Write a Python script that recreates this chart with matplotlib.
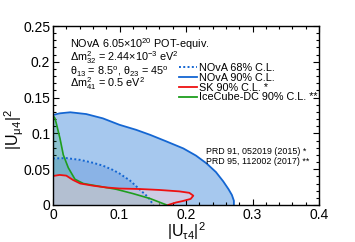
import numpy as np
import matplotlib
matplotlib.use("Agg")
import matplotlib.pyplot as plt
from matplotlib.lines import Line2D

plt.rcParams['font.family'] = ['Liberation Sans', 'DejaVu Sans']
plt.rcParams['mathtext.default'] = 'regular'
plt.rcParams['mathtext.fontset'] = 'custom'
plt.rcParams['mathtext.rm'] = 'Liberation Sans'
plt.rcParams['mathtext.it'] = 'Liberation Sans:italic'

# NOvA 90% C.L. contour
nova90_x = [0.0, 0.01, 0.026, 0.05, 0.075, 0.10, 0.125, 0.146, 0.17, 0.196, 0.215, 0.231, 0.245, 0.256, 0.264, 0.269, 0.272, 0.272]
nova90_y = [0.1257, 0.128, 0.1295, 0.127, 0.121, 0.112, 0.105, 0.098, 0.089, 0.079, 0.069, 0.058, 0.046, 0.033, 0.022, 0.014, 0.006, 0.0]
# NOvA 68% C.L. contour
nova68_x = [0.0, 0.02, 0.041, 0.06, 0.075, 0.09, 0.10, 0.116, 0.13, 0.143, 0.151]
nova68_y = [0.065, 0.0655, 0.063, 0.059, 0.055, 0.049, 0.044, 0.034, 0.022, 0.011, 0.0]
# SK 90% C.L. contour
sk_x = [0.0, 0.01, 0.02, 0.03, 0.041, 0.06, 0.08, 0.10, 0.131, 0.16, 0.19, 0.205, 0.211, 0.207, 0.195, 0.185, 0.178, 0.173]
sk_y = [0.0405, 0.042, 0.041, 0.035, 0.030, 0.027, 0.0245, 0.023, 0.0223, 0.021, 0.019, 0.017, 0.013, 0.0085, 0.0055, 0.0035, 0.0015, 0.0]
# IceCube-DC 90% C.L. contour
ic_x = [0.0, 0.003, 0.0055, 0.0105, 0.0155, 0.023, 0.033, 0.0456, 0.07, 0.095, 0.12, 0.146, 0.171]
ic_y = [0.125, 0.121, 0.112, 0.093, 0.070, 0.052, 0.036, 0.030, 0.026, 0.022, 0.016, 0.009, 0.0]

fig = plt.figure(figsize=(3.55, 2.42), dpi=100)
ax = fig.add_axes([53/355, 37/242, 266/355, 179/242])

blue = '#1466d2'
red = '#ee1111'
green = '#1e9e1e'

ax.fill_between(nova90_x, 0, nova90_y, color='#a6c8ee', lw=0, zorder=1)
ax.fill_between(nova68_x, 0, nova68_y, color='#8ab3e6', lw=0, zorder=2)
ax.fill_between(ic_x, 0, ic_y, color=(0.16, 0.67, 0.35), alpha=0.2, lw=0, zorder=3)
ax.fill(np.append(sk_x, 0.0), np.append(sk_y, 0.0), color=(1.0, 0.82, 0.86), alpha=0.45, lw=0, zorder=4)

ax.plot(nova90_x, nova90_y, color=blue, lw=1.3, zorder=5)
ax.plot(nova68_x, nova68_y, color=blue, lw=1.4, ls=(0, (1, 1.2)), zorder=5)
ax.plot(ic_x, ic_y, color=green, lw=1.2, zorder=6)
ax.plot(sk_x, sk_y, color=red, lw=1.3, zorder=7)

ax.set_xlim(0, 0.4)
ax.set_ylim(0, 0.25)
ax.set_xticks([0, 0.1, 0.2, 0.3, 0.4])
ax.set_xticklabels(['0', '0.1', '0.2', '0.3', '0.4'])
ax.set_yticks([0, 0.05, 0.1, 0.15, 0.2, 0.25])
ax.set_yticklabels(['0', '0.05', '0.1', '0.15', '0.2', '0.25'])
ax.set_xticks(np.arange(0, 0.4001, 0.02), minor=True)
ax.set_yticks(np.arange(0, 0.2501, 0.01), minor=True)
ax.tick_params(which='both', direction='in', top=True, right=True, labelsize=10, pad=2)
ax.tick_params(which='major', length=4.3, width=0.8)
ax.tick_params(which='minor', length=2.2, width=0.8)
for s in ax.spines.values():
    s.set_linewidth(1.0)
    s.set_zorder(10)

ax.set_xlabel(r'|U$_{\tau4}$|$^{2}$', fontsize=11.5, va='top')
ax.xaxis.set_label_coords(0.5, -0.085)
ax.set_ylabel(r'|U$_{\mu4}$|$^{2}$', fontsize=11.5)
ax.yaxis.set_label_coords(-0.1, 0.42)

def afx(px):
    return (px - 53) / 266
def afy(py):
    return (205 - py) / 179

info = [r'NOvA 6.05$\times$10$^{20}$ POT-equiv.',
        r'$\Delta$m$^{2}_{32}$ = 2.44$\times$10$^{-3}$ eV$^{2}$',
        r'$\theta_{13}$ = 8.5$^{o}$, $\theta_{23}$ = 45$^{o}$',
        r'$\Delta$m$^{2}_{41}$ = 0.5 eV$^{2}$']
for i, t in enumerate(info):
    ax.text(afx(70), afy(44 + 13.3 * i), t, transform=ax.transAxes, fontsize=7.8,
            va='center', ha='left', zorder=11)

handles = [Line2D([], [], color=blue, lw=1.4, ls=(0, (1, 1.2))),
           Line2D([], [], color=blue, lw=1.3),
           Line2D([], [], color=red, lw=1.3),
           Line2D([], [], color=green, lw=1.3)]
labels = ['NOvA 68% C.L.', 'NOvA 90% C.L.', 'SK 90% C.L. *', 'IceCube-DC 90% C.L. **']
leg = ax.legend(handles, labels, loc='upper left', bbox_to_anchor=(afx(179), afy(63)),
                frameon=False, fontsize=7.8, handlelength=1.7, handletextpad=0.15,
                labelspacing=-0.02, borderpad=0, borderaxespad=0)
leg.set_zorder(11)

ax.text(afx(206), afy(151), 'PRD 91, 052019 (2015) *', transform=ax.transAxes,
        fontsize=6.4, va='center', ha='left', zorder=11)
ax.text(afx(206), afy(162), 'PRD 95, 112002 (2017) **', transform=ax.transAxes,
        fontsize=6.4, va='center', ha='left', zorder=11)

fig.savefig('out.png', dpi=100)
